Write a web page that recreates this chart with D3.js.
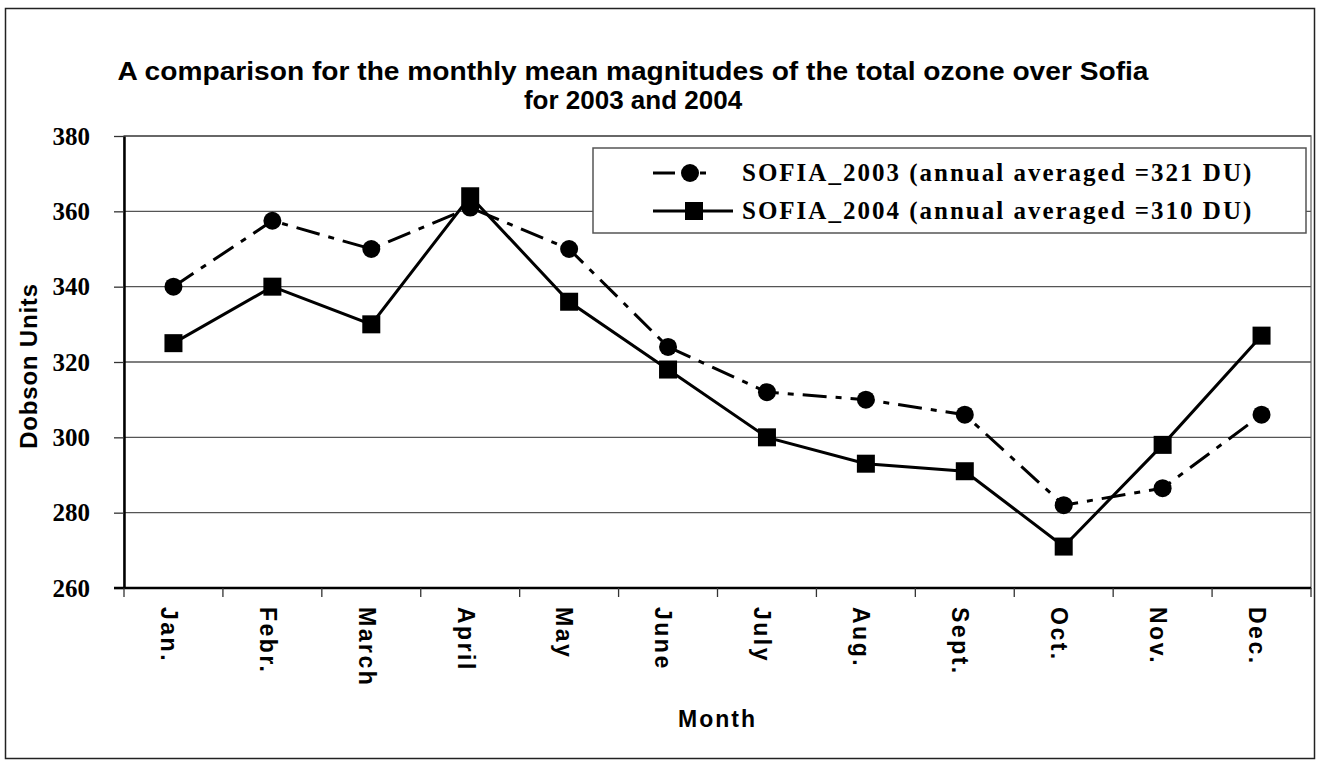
<!DOCTYPE html>
<html>
<head>
<meta charset="utf-8">
<script src="https://cdn.jsdelivr.net/npm/d3@7"></script>
<style>
  body { margin: 0; background: #fff; }
  .sans { font-family: Arial, "Liberation Sans", sans-serif; font-weight: bold; }
  .serif { font-family: "Times New Roman", "Liberation Serif", serif; font-weight: bold; }
</style>
</head>
<body>
<div class="chart"></div>
<script>
var months = ["Jan.", "Febr.", "March", "April", "May", "June", "July", "Aug.", "Sept.", "Oct.", "Nov.", "Dec."];
var sofia2003 = [340, 357.5, 350, 361, 350, 324, 312, 310, 306, 282, 286.5, 306];
var sofia2004 = [325, 340, 330, 364, 336, 318, 300, 293, 291, 271, 298, 327];
var yTicks = [260, 280, 300, 320, 340, 360, 380];
var legendLabels = ["SOFIA_2003 (annual averaged =321 DU)", "SOFIA_2004 (annual averaged =310 DU)"];

var width = 1319, height = 764;
var plot = {left: 124, right: 1311, top: 136, bottom: 588};

var svg = d3.select(".chart").append("svg")
  .attr("width", width)
  .attr("height", height);

// chart frame
svg.append("rect")
  .attr("x", 5.5).attr("y", 8.5)
  .attr("width", 1309).attr("height", 750)
  .attr("fill", "#fff")
  .attr("stroke", "#222")
  .attr("stroke-width", 1.5);

var x = d3.scaleBand().domain(months).range([plot.left, plot.right]);
var y = d3.scaleLinear().domain([260, 380]).range([plot.bottom, plot.top]);

// plot area border
svg.append("rect")
  .attr("x", plot.left).attr("y", plot.top)
  .attr("width", plot.right - plot.left).attr("height", plot.bottom - plot.top)
  .attr("fill", "none")
  .attr("stroke", "#808080")
  .attr("stroke-width", 1.5);

// gridlines
svg.append("g").selectAll("line")
  .data(yTicks)
  .join("line")
  .attr("x1", plot.left).attr("x2", plot.right)
  .attr("y1", d => y(d)).attr("y2", d => y(d))
  .attr("stroke", "#555")
  .attr("stroke-width", 1.3);

// y axis
var yAxis = svg.append("g")
  .attr("transform", "translate(" + plot.left + ",0)")
  .call(d3.axisLeft(y).tickValues(yTicks).tickSize(10).tickPadding(24).tickSizeOuter(0));
yAxis.select(".domain").attr("stroke", "#000").attr("stroke-width", 2.5);
yAxis.selectAll(".tick line").attr("stroke", "#333").attr("stroke-width", 1.3);
yAxis.selectAll(".tick text")
  .attr("class", "serif")
  .attr("font-size", 25)
  .attr("fill", "#000");

// x axis line and boundary ticks
svg.append("line")
  .attr("x1", plot.left - 10).attr("x2", plot.right)
  .attr("y1", plot.bottom).attr("y2", plot.bottom)
  .attr("stroke", "#000").attr("stroke-width", 2.5);

var bounds = months.map(m => x(m)).concat([x.range()[1]]);
svg.append("g").selectAll("line")
  .data(bounds)
  .join("line")
  .attr("x1", d => d).attr("x2", d => d)
  .attr("y1", plot.bottom).attr("y2", plot.bottom + 9)
  .attr("stroke", "#333").attr("stroke-width", 1.3);

svg.append("g").selectAll("text")
  .data(months)
  .join("text")
  .attr("class", "sans")
  .attr("font-size", 23)
  .attr("letter-spacing", 2.5)
  .attr("transform", d => "translate(" + (x(d) + x.bandwidth() / 2) + "," + (plot.bottom + 19) + ") rotate(90)")
  .attr("dy", "0.55em")
  .text(d => d);

// axis titles
svg.append("text")
  .attr("class", "sans")
  .attr("font-size", 24)
  .attr("letter-spacing", 0.8)
  .attr("text-anchor", "middle")
  .attr("transform", "translate(37," + ((plot.top + plot.bottom) / 2 + 4) + ") rotate(-90)")
  .text("Dobson Units");

svg.append("text")
  .attr("class", "sans")
  .attr("font-size", 23)
  .attr("letter-spacing", 2)
  .attr("text-anchor", "middle")
  .attr("x", (plot.left + plot.right) / 2)
  .attr("y", 727)
  .text("Month");

// title
var title = svg.append("text")
  .attr("class", "sans")
  .attr("font-size", 26)
  .attr("text-anchor", "middle");
title.append("tspan").attr("x", 633).attr("y", 80)
  .attr("textLength", 1031)
  .attr("lengthAdjust", "spacingAndGlyphs")
  .text("A comparison for the monthly mean magnitudes of the total ozone over Sofia");
title.append("tspan").attr("x", 633).attr("y", 109)
  .text("for 2003 and 2004");

// lines
var line = d3.line()
  .x((d, i) => x(months[i]) + x.bandwidth() / 2)
  .y(d => y(d));

svg.append("path")
  .datum(sofia2003)
  .attr("d", line)
  .attr("fill", "none")
  .attr("stroke", "#000")
  .attr("stroke-width", 3)
  .attr("stroke-dasharray", "24,9,6,9");

svg.append("path")
  .datum(sofia2004)
  .attr("d", line)
  .attr("fill", "none")
  .attr("stroke", "#000")
  .attr("stroke-width", 3);

svg.append("g").selectAll("circle")
  .data(sofia2003)
  .join("circle")
  .attr("cx", (d, i) => x(months[i]) + x.bandwidth() / 2)
  .attr("cy", d => y(d))
  .attr("r", 9)
  .attr("fill", "#000");

svg.append("g").selectAll("rect")
  .data(sofia2004)
  .join("rect")
  .attr("x", (d, i) => x(months[i]) + x.bandwidth() / 2 - 9)
  .attr("y", d => y(d) - 9)
  .attr("width", 18).attr("height", 18)
  .attr("fill", "#000");

// legend
var legend = svg.append("g").attr("transform", "translate(593,148)");
legend.append("rect")
  .attr("width", 713).attr("height", 85)
  .attr("fill", "#fff")
  .attr("stroke", "#555")
  .attr("stroke-width", 1.5);

var row1 = legend.append("g").attr("transform", "translate(0,25)");
row1.append("line").attr("x1", 60).attr("x2", 82).attr("y1", 0).attr("y2", 0)
  .attr("stroke", "#000").attr("stroke-width", 3);
row1.append("line").attr("x1", 107).attr("x2", 113).attr("y1", 0).attr("y2", 0)
  .attr("stroke", "#000").attr("stroke-width", 3);
row1.append("circle").attr("cx", 97).attr("cy", 0).attr("r", 9).attr("fill", "#000");

var row2 = legend.append("g").attr("transform", "translate(0,63)");
row2.append("line").attr("x1", 60).attr("x2", 140).attr("y1", 0).attr("y2", 0)
  .attr("stroke", "#000").attr("stroke-width", 3);
row2.append("rect").attr("x", 92).attr("y", -9).attr("width", 18).attr("height", 18).attr("fill", "#000");

[row1, row2].forEach(function (g, i) {
  g.append("text")
    .attr("class", "serif")
    .attr("font-size", 25)
    .attr("letter-spacing", 2)
    .attr("x", 149)
    .attr("dy", "0.33em")
    .text(legendLabels[i]);
});
</script>
</body>
</html>
